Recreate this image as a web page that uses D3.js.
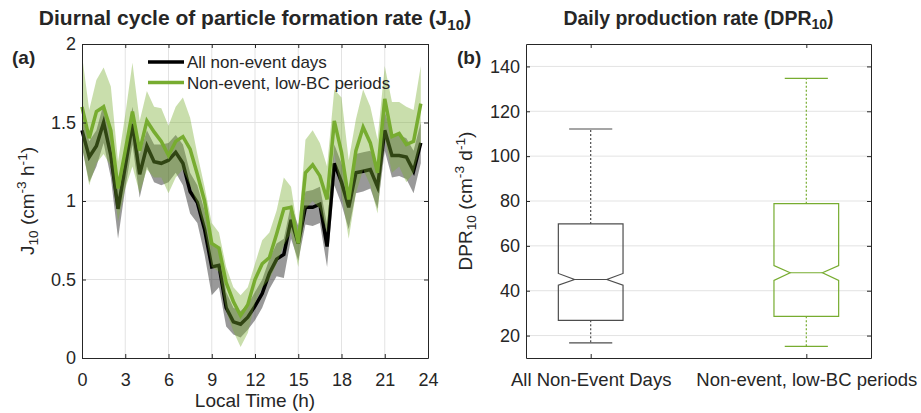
<!DOCTYPE html>
<html><head><meta charset="utf-8">
<script src="https://cdn.jsdelivr.net/npm/d3@7"></script>
<style>
body{margin:0;background:#fff}
text{font-family:"Liberation Sans",Arial,Helvetica,sans-serif;fill:#262626}
</style>
</head><body>
<svg id="c" width="921" height="413"></svg>
<script>
// ---------- DATA ----------
const hours = [0,0.5,1,1.5,2,2.5,3,3.5,4,4.5,5,5.5,6,6.5,7,7.5,8,8.5,9,9.5,10,10.5,11,11.5,
               12,12.5,13,13.5,14,14.5,15,15.5,16,16.5,17,17.5,18,18.5,19,19.5,20,20.5,21,21.5,22,22.5,23,23.5];
const allMean = [1.45,1.28,1.35,1.50,1.29,0.95,1.22,1.49,1.17,1.35,1.25,1.24,1.26,1.31,1.24,1.06,0.99,0.82,0.58,0.59,0.32,0.23,0.215,0.26,
                 0.33,0.41,0.54,0.63,0.66,0.88,0.73,0.96,0.96,0.98,0.71,1.24,1.12,0.96,1.18,1.19,1.20,1.09,1.45,1.29,1.29,1.28,1.19,1.37];
const allUpper = [1.55,1.38,1.45,1.62,1.42,1.12,1.35,1.60,1.30,1.45,1.36,1.36,1.37,1.42,1.36,1.18,1.10,0.94,0.72,0.70,0.42,0.32,0.30,0.34,
                  0.42,0.50,0.63,0.73,0.76,0.98,0.84,1.06,1.07,1.09,0.85,1.36,1.24,1.08,1.30,1.31,1.32,1.21,1.57,1.42,1.42,1.40,1.32,1.50];
const allLower = [1.34,1.12,1.22,1.37,1.15,0.76,1.08,1.36,1.02,1.22,1.12,1.10,1.12,1.18,1.10,0.92,0.86,0.66,0.40,0.45,0.20,0.15,0.13,0.18,
                  0.24,0.32,0.44,0.52,0.51,0.76,0.62,0.85,0.84,0.86,0.58,1.10,0.98,0.82,1.05,1.06,1.08,0.95,1.32,1.15,1.16,1.14,1.05,1.24];
const lowBCMean = [1.60,1.40,1.57,1.60,1.45,1.08,1.32,1.57,1.32,1.51,1.44,1.38,1.29,1.38,1.41,1.33,1.17,1.00,0.73,0.70,0.48,0.36,0.27,0.34,
                   0.50,0.60,0.64,0.79,0.95,0.96,0.73,1.18,1.23,1.16,1.01,1.51,1.31,1.01,1.32,1.47,1.37,1.18,1.65,1.41,1.43,1.36,1.38,1.62];
const lowBCUpper = [1.93,1.58,1.77,1.85,1.73,1.25,1.55,1.88,1.51,1.70,1.60,1.59,1.48,1.60,1.66,1.53,1.30,1.09,0.86,0.80,0.58,0.45,0.40,0.45,
                    0.60,0.75,0.80,0.94,1.15,1.09,0.80,1.39,1.45,1.37,1.22,1.71,1.66,1.26,1.52,1.71,1.60,1.39,1.86,1.63,1.63,1.60,1.58,1.86];
const lowBCLower = [1.35,1.10,1.24,1.30,1.22,0.87,1.08,1.22,1.05,1.20,1.15,1.15,1.05,1.15,1.20,1.10,0.98,0.82,0.58,0.55,0.30,0.17,0.07,0.16,
                    0.35,0.45,0.50,0.60,0.72,0.80,0.58,0.95,1.00,0.95,0.80,1.30,1.05,0.76,1.05,1.20,1.10,0.92,1.40,1.18,1.22,1.12,1.18,1.36];
const xTicksA = [0,3,6,9,12,15,18,21,24];
const yTicksA = [0,0.5,1,1.5,2];
const yTickLabelsA = ["0","0.5","1","1.5","2"];

const boxCategories = ["All Non-Event Days","Non-event, low-BC periods"];
const boxLowWhisker = [16.7,15.2];
const boxQ1 = [26.8,28.6];
const boxNotchLow = [42.5,44.6];
const boxMedian = [45.0,48.0];
const boxNotchHigh = [47.7,51.2];
const boxQ3 = [69.8,78.8];
const boxHighWhisker = [112.1,134.7];
const yTicksB = [20,40,60,80,100,120,140];

const legendLabels = ["All non-event days","Non-event, low-BC periods"];

// ---------- STYLE ----------
const axisCol = "#262626", gridCol = "#e3e3e3";
const green = "#77AC30", black = "#000000";
const boxCols = ["#4d4d4d", "#77AC30"];

const svg = d3.select("#c");

function addSubText(g, parts, attrs){
  const t = g.append("text");
  for (const k in attrs) t.attr(k, attrs[k]);
  parts.forEach(p=>{
    const ts = t.append("tspan").text(p.t);
    if (p.s === "sub"){ ts.attr("font-size","0.72em").attr("dy","0.32em"); }
    else if (p.s === "sup"){ ts.attr("font-size","0.72em").attr("dy","-0.55em"); }
    else if (p.back){ ts.attr("dy", p.back); }
  });
  return t;
}

// ---------- PANEL A ----------
const A = {l:82, r:428, t:44, b:358};
const xA = d3.scaleLinear().domain([0,24]).range([A.l,A.r]);
const yA = d3.scaleLinear().domain([0,2]).range([A.b,A.t]);
const gA = svg.append("g");

// grid
gA.append("g").selectAll("line").data(xTicksA.slice(1,-1)).join("line")
  .attr("x1",d=>xA(d)).attr("x2",d=>xA(d)).attr("y1",A.t).attr("y2",A.b)
  .attr("stroke",gridCol).attr("stroke-width",1);
gA.append("g").selectAll("line").data(yTicksA.slice(1,-1)).join("line")
  .attr("y1",d=>yA(d)).attr("y2",d=>yA(d)).attr("x1",A.l).attr("x2",A.r)
  .attr("stroke",gridCol).attr("stroke-width",1);

const rowsAll = hours.map((h,i)=>({t:h, m:allMean[i], hi:allUpper[i], lo:allLower[i]}));
const rowsBC = hours.map((h,i)=>({t:h, m:lowBCMean[i], hi:lowBCUpper[i], lo:lowBCLower[i]}));
const area = d3.area().x(d=>xA(d.t)).y0(d=>yA(d.lo)).y1(d=>yA(d.hi));
const line = d3.line().x(d=>xA(d.t)).y(d=>yA(d.m));

gA.append("path").datum(rowsAll).attr("d",area).attr("fill","#000").attr("fill-opacity",0.4);
gA.append("path").datum(rowsAll).attr("d",line).attr("fill","none").attr("stroke",black)
  .attr("stroke-width",3.5).attr("stroke-linejoin","miter");
gA.append("path").datum(rowsBC).attr("d",area).attr("fill",green).attr("fill-opacity",0.4);
gA.append("path").datum(rowsBC).attr("d",line).attr("fill","none").attr("stroke",green)
  .attr("stroke-width",3.5).attr("stroke-linejoin","miter");

// axes
const axB = gA.append("g").attr("transform",`translate(0,${A.b})`)
  .call(d3.axisBottom(xA).tickValues(xTicksA).tickSizeInner(-4).tickSizeOuter(0).tickPadding(15));
const axL = gA.append("g").attr("transform",`translate(${A.l},0)`)
  .call(d3.axisLeft(yA).tickValues(yTicksA).tickFormat((d,i)=>yTickLabelsA[i]).tickSizeInner(-4).tickSizeOuter(0).tickPadding(6));
const axT = gA.append("g").attr("transform",`translate(0,${A.t})`)
  .call(d3.axisTop(xA).tickValues(xTicksA).tickSizeInner(-4).tickSizeOuter(0).tickFormat(""));
const axR = gA.append("g").attr("transform",`translate(${A.r},0)`)
  .call(d3.axisRight(yA).tickValues(yTicksA).tickSizeInner(-4).tickSizeOuter(0).tickFormat(""));
[axB,axL,axT,axR].forEach(a=>{
  a.select(".domain").attr("stroke",axisCol);
  a.selectAll(".tick line").attr("stroke",axisCol);
  a.selectAll("text").attr("font-size",18).attr("fill",axisCol).attr("font-family",null);
});

// legend
legendLabels.forEach((lab,i)=>{
  const yy = 62 + i*20.5;
  gA.append("line").attr("x1",148).attr("x2",184).attr("y1",yy).attr("y2",yy)
    .attr("stroke", i===0?black:green).attr("stroke-width",3.5);
  gA.append("text").attr("x",187).attr("y",yy+6).attr("font-size",17).text(lab);
});

// title & labels
addSubText(svg,[{t:"Diurnal cycle of particle formation rate (J"},{t:"10",s:"sub"},{t:")",back:"-0.23em"}],
  {x:(A.l+A.r)/2, y:25, "text-anchor":"middle","font-size":21,"font-weight":"bold"});
svg.append("text").attr("x",12).attr("y",64).attr("font-size",19).attr("font-weight","bold").text("(a)");
svg.append("text").attr("x",(A.l+A.r)/2).attr("y",407).attr("text-anchor","middle").attr("font-size",19).text("Local Time (h)");
addSubText(svg,[{t:"J"},{t:"10",s:"sub"},{t:" (cm",back:"-0.23em"},{t:"-3",s:"sup"},{t:" h",back:"0.4em"},{t:"-1",s:"sup"},{t:")",back:"0.4em"}],
  {transform:`translate(34,${(A.t+A.b)/2}) rotate(-90)`, "text-anchor":"middle","font-size":19});

// ---------- PANEL B ----------
const B = {l:526, r:871, t:44, b:358};
const xB = d3.scaleLinear().domain([0.7,2.3]).range([B.l,B.r]);
const yB = d3.scaleLinear().domain([10,150]).range([B.b,B.t]);
const gB = svg.append("g");
gB.append("g").selectAll("line").data(yTicksB).join("line")
  .attr("y1",d=>yB(d)).attr("y2",d=>yB(d)).attr("x1",B.l).attr("x2",B.r)
  .attr("stroke",gridCol).attr("stroke-width",1);

const catPos = [1,2];
const bw = 0.3, cw = 0.2;
boxCategories.forEach((c,i)=>{
  const cx = catPos[i], col = boxCols[i];
  const g = gB.append("g").attr("stroke",col).attr("fill","none").attr("stroke-width",1.2);
  // whiskers (dotted)
  g.append("line").attr("x1",xB(cx)).attr("x2",xB(cx)).attr("y1",yB(boxQ3[i])).attr("y2",yB(boxHighWhisker[i]))
    .attr("stroke-dasharray","2,2");
  g.append("line").attr("x1",xB(cx)).attr("x2",xB(cx)).attr("y1",yB(boxQ1[i])).attr("y2",yB(boxLowWhisker[i]))
    .attr("stroke-dasharray","2,2");
  // caps
  [boxHighWhisker[i], boxLowWhisker[i]].forEach(v=>{
    g.append("line").attr("x1",xB(cx-cw/2)).attr("x2",xB(cx+cw/2)).attr("y1",yB(v)).attr("y2",yB(v));
  });
  // notched box
  const L = xB(cx-bw/2), R = xB(cx+bw/2), Li = xB(cx-bw/4), Ri = xB(cx+bw/4);
  const pts = [[L,yB(boxQ1[i])],[L,yB(boxNotchLow[i])],[Li,yB(boxMedian[i])],[L,yB(boxNotchHigh[i])],[L,yB(boxQ3[i])],
               [R,yB(boxQ3[i])],[R,yB(boxNotchHigh[i])],[Ri,yB(boxMedian[i])],[R,yB(boxNotchLow[i])],[R,yB(boxQ1[i])]];
  g.append("path").attr("d", d3.line()(pts)+"Z");
  g.append("line").attr("x1",Li).attr("x2",Ri).attr("y1",yB(boxMedian[i])).attr("y2",yB(boxMedian[i]));
});

const bxB = gB.append("g").attr("transform",`translate(0,${B.b})`)
  .call(d3.axisBottom(xB).tickValues(catPos).tickFormat((d,i)=>boxCategories[i]).tickSizeInner(-4).tickSizeOuter(0).tickPadding(15));
const bxL = gB.append("g").attr("transform",`translate(${B.l},0)`)
  .call(d3.axisLeft(yB).tickValues(yTicksB).tickSizeInner(-4).tickSizeOuter(0).tickPadding(6));
const bxT = gB.append("g").attr("transform",`translate(0,${B.t})`)
  .call(d3.axisTop(xB).tickValues(catPos).tickSizeInner(-4).tickSizeOuter(0).tickFormat(""));
const bxR = gB.append("g").attr("transform",`translate(${B.r},0)`)
  .call(d3.axisRight(yB).tickValues(yTicksB).tickSizeInner(-4).tickSizeOuter(0).tickFormat(""));
[bxB,bxL,bxT,bxR].forEach(a=>{
  a.select(".domain").attr("stroke",axisCol);
  a.selectAll(".tick line").attr("stroke",axisCol);
  a.selectAll("text").attr("font-size",18.5).attr("fill",axisCol).attr("font-family",null);
});
bxL.selectAll("text").attr("font-size",18);

addSubText(svg,[{t:"Daily production rate (DPR"},{t:"10",s:"sub"},{t:")",back:"-0.23em"}],
  {x:(B.l+B.r)/2, y:25, "text-anchor":"middle","font-size":19.5,"font-weight":"bold"});
svg.append("text").attr("x",457).attr("y",64).attr("font-size",19).attr("font-weight","bold").text("(b)");
addSubText(svg,[{t:"DPR"},{t:"10",s:"sub"},{t:" (cm",back:"-0.23em"},{t:"-3",s:"sup"},{t:" d",back:"0.4em"},{t:"-1",s:"sup"},{t:")",back:"0.4em"}],
  {transform:`translate(472,${(B.t+B.b)/2}) rotate(-90)`, "text-anchor":"middle","font-size":19});
</script>
</body></html>
